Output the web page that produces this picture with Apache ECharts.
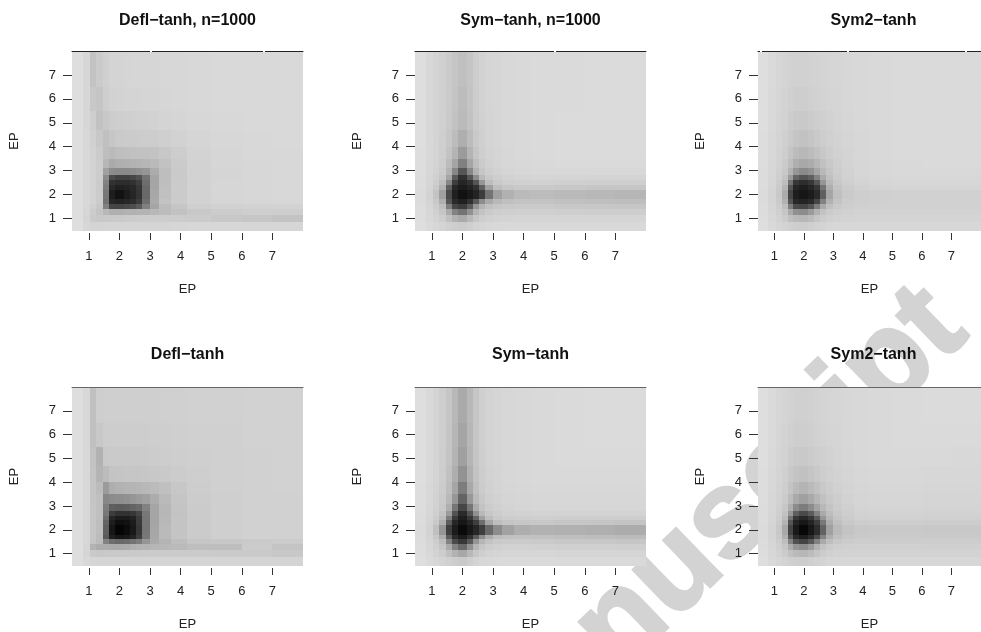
<!DOCTYPE html>
<html><head><meta charset="utf-8">
<style>html,body{margin:0;padding:0;background:#fff;overflow:hidden}#c{width:981px;height:632px}</style>
<script src="https://cdn.jsdelivr.net/npm/echarts@6/dist/echarts.min.js"></script>
</head><body><div id="c"></div>
<script>
const xEdges=[0.45,0.8,1.05,1.25,1.45,1.65,1.85,2.15,2.35,2.55,2.75,3,3.3,3.7,4.2,5,6,7,8];
const yEdges=[8,6.5,5.5,4.7,4,3.5,3.1,2.8,2.6,2.4,2.2,1.8,1.6,1.4,1.15,0.85,0.48];
const tickLabels=[1,2,3,4,5,6,7];
const titles=["Defl\u2212tanh, n=1000","Sym\u2212tanh, n=1000","Sym2\u2212tanh","Defl\u2212tanh","Sym\u2212tanh","Sym2\u2212tanh"];
const axisName="EP";
const watermark="Manuscript";
// grey level per cell, rows from top (y=8) to bottom (y=0.48)
const deflN=[
[222,215,195,203,208,212,212,213,214,214,214,214,215,215,216,217,217,217],
[222,215,200,197,206,210,211,212,212,212,213,213,214,215,216,217,217,217],
[222,215,206,194,200,205,206,207,208,209,209,210,212,213,215,216,217,217],
[222,216,208,200,192,198,202,203,203,204,205,205,207,210,213,215,216,217],
[222,216,210,203,190,186,190,192,193,194,194,195,200,205,211,214,216,216],
[222,216,211,205,182,170,174,176,178,180,182,186,194,203,210,214,215,216],
[222,216,211,205,160,140,138,138,140,144,150,172,190,202,210,213,215,216],
[222,216,211,205,140,75,65,65,70,80,115,165,190,202,210,213,215,216],
[222,216,211,204,130,50,45,45,50,62,110,165,190,203,210,214,215,216],
[222,216,211,204,125,40,32,35,40,55,105,165,192,203,210,214,215,216],
[222,216,211,204,120,30,18,28,38,52,105,168,192,203,210,214,215,216],
[222,216,211,204,115,40,35,38,45,60,110,170,195,204,210,213,214,215],
[222,215,208,200,128,70,68,72,78,90,128,165,188,198,207,209,210,211],
[222,214,204,196,185,176,176,178,178,180,180,184,188,194,200,204,206,206],
[222,213,202,200,201,202,202,203,204,204,205,205,205,204,203,200,198,195],
[222,215,212,212,213,213,213,213,213,213,213,213,213,214,215,215,214,214]];
const symN=[
[222,216,212,208,203,197,192,197,205,210,213,214,216,217,218,218,219,219],
[222,216,212,208,203,196,188,196,205,210,213,214,216,217,218,218,219,219],
[222,216,212,208,202,194,186,194,204,209,212,214,216,217,218,219,219,219],
[222,216,212,207,199,188,174,188,201,208,212,214,216,217,218,219,219,219],
[221,216,212,206,195,180,155,180,197,206,211,213,215,217,218,219,219,219],
[221,215,211,205,188,165,128,165,190,203,209,212,215,216,217,218,218,218],
[221,215,210,203,180,135,85,135,178,198,206,210,213,215,216,216,216,216],
[220,214,208,198,165,90,48,85,140,185,200,206,210,212,213,213,212,212],
[220,214,206,190,135,62,38,50,85,150,190,202,207,208,209,208,207,207],
[220,213,202,178,95,40,28,35,50,95,160,190,198,201,201,200,198,198],
[219,211,195,160,75,32,18,25,35,60,115,160,177,186,188,186,184,182],
[219,212,200,175,85,42,32,50,90,140,170,185,192,195,195,193,191,190],
[220,214,205,190,125,70,60,90,150,180,192,198,201,202,202,200,199,198],
[221,215,208,198,170,130,115,145,180,195,202,206,207,208,208,207,206,206],
[221,216,211,205,192,178,170,185,198,205,209,211,212,213,213,213,213,213],
[222,218,215,212,208,205,203,207,211,213,215,216,217,217,217,217,217,217]];
const sym2N=[
[222,218,214,212,210,209,209,210,211,212,213,214,215,216,217,218,218,218],
[222,217,214,211,208,206,206,208,209,211,212,213,215,216,217,218,218,218],
[222,217,213,210,205,202,201,204,206,208,210,212,214,216,217,218,218,218],
[221,216,212,208,202,197,194,197,201,205,208,211,213,215,217,218,218,218],
[221,216,211,206,197,188,184,188,194,200,205,209,212,215,217,218,218,218],
[221,215,210,203,190,175,168,172,182,193,201,207,211,214,216,217,218,218],
[220,215,208,200,178,150,138,145,165,185,197,205,210,214,216,217,217,217],
[220,214,207,195,155,100,85,95,130,170,192,203,209,213,215,216,216,216],
[220,214,205,190,115,55,45,55,85,150,185,200,207,211,214,215,215,215],
[220,213,203,182,85,38,30,38,55,115,175,196,204,209,212,213,213,213],
[219,212,201,172,70,30,22,28,42,95,165,192,202,206,208,209,209,209],
[219,212,202,178,85,40,35,42,70,130,178,196,204,207,208,209,209,209],
[220,213,205,190,125,75,70,85,125,170,192,202,206,208,209,209,209,209],
[220,214,208,198,170,145,140,155,178,195,203,207,209,210,210,210,210,210],
[221,215,210,204,192,185,183,188,197,204,208,210,211,212,212,212,212,212],
[222,217,214,211,208,206,205,207,210,212,214,215,215,215,215,215,215,215]];
const deflA=[
[222,216,192,206,207,207,207,207,207,207,207,207,208,208,209,209,210,210],
[222,216,192,200,205,205,205,205,205,205,205,206,206,207,208,208,210,210],
[222,216,194,178,201,202,202,202,202,202,203,204,205,206,207,208,209,210],
[222,216,196,180,188,196,197,198,198,198,199,200,201,204,206,208,209,210],
[222,216,197,188,155,174,178,180,181,182,184,187,192,199,205,208,209,210],
[222,216,197,192,135,140,142,145,150,155,160,172,186,197,204,207,209,209],
[222,216,198,192,125,95,92,95,100,105,130,165,183,196,203,207,209,209],
[222,216,198,192,120,60,50,50,55,70,120,165,183,195,203,207,209,209],
[222,216,198,192,110,38,28,28,35,60,118,165,184,196,203,207,209,209],
[222,216,198,190,100,30,15,18,28,58,118,165,184,196,203,207,209,209],
[222,216,198,190,95,22,5,12,25,55,118,166,186,196,203,207,209,209],
[222,216,198,188,90,32,22,25,35,62,120,168,186,197,203,207,209,209],
[222,215,197,187,130,110,105,108,115,125,150,170,180,190,198,200,202,204],
[222,214,178,172,172,170,170,172,176,178,180,182,184,186,190,190,204,196],
[222,213,202,200,201,201,201,201,202,202,203,203,203,203,203,202,202,200],
[222,216,214,213,213,213,213,213,213,213,213,213,213,213,213,213,212,212]];
const symA=[
[222,217,212,206,198,184,170,184,198,207,211,213,215,216,217,218,219,219],
[222,217,212,206,197,182,165,183,198,207,211,213,215,216,217,218,219,219],
[222,217,212,206,196,180,160,181,197,206,211,213,215,216,217,218,218,218],
[222,217,212,205,193,174,146,176,195,205,210,212,215,216,217,217,217,217],
[221,216,211,204,190,165,125,168,192,204,209,212,214,215,216,216,216,216],
[221,216,210,202,185,150,100,152,186,200,207,210,213,214,215,215,215,215],
[221,215,209,200,175,118,70,118,172,195,204,208,211,213,214,214,214,214],
[220,215,207,195,155,82,42,82,145,185,199,205,209,210,211,211,211,211],
[220,214,205,188,125,58,30,55,100,160,190,201,205,206,207,206,206,206],
[220,213,201,175,92,38,22,36,62,110,165,190,197,199,200,198,197,196],
[219,211,192,150,62,28,10,24,38,62,105,140,162,174,178,177,175,172],
[220,212,199,172,90,42,28,48,90,140,172,188,192,194,193,191,189,187],
[220,214,205,188,130,75,55,88,150,182,195,201,203,203,202,200,199,198],
[221,215,208,198,170,130,105,145,182,198,205,208,210,210,209,208,208,207],
[221,216,211,205,192,178,168,185,199,207,211,213,214,214,214,213,213,213],
[222,218,215,212,208,205,202,207,212,215,216,217,218,218,218,217,217,217]];
const sym2A=[
[222,218,214,212,210,208,208,209,211,212,213,214,215,216,217,218,219,219],
[222,218,214,211,208,206,206,207,209,211,212,213,215,216,217,218,218,218],
[222,217,213,210,205,202,201,204,206,208,210,212,214,216,217,217,217,216],
[221,216,212,208,201,196,193,197,201,205,208,211,213,215,216,216,215,215],
[221,216,211,206,196,186,180,186,193,200,205,209,212,214,215,215,214,214],
[221,215,210,203,188,170,160,170,182,193,201,206,210,213,214,214,213,213],
[220,215,208,199,175,140,125,140,163,184,196,204,208,212,213,213,212,212],
[220,214,207,194,150,95,75,92,130,170,190,201,206,210,211,211,210,210],
[220,214,205,188,115,55,40,55,90,150,182,197,204,208,209,209,208,208],
[220,213,203,180,85,36,24,36,60,120,172,192,201,205,206,206,205,205],
[219,212,200,168,68,25,8,24,45,98,160,186,196,200,201,201,200,200],
[219,212,202,176,88,42,30,44,75,132,175,192,199,202,203,203,202,202],
[220,213,205,190,130,80,68,88,130,170,190,200,204,205,205,205,205,205],
[220,214,208,198,172,148,140,155,178,195,203,207,208,209,209,209,208,208],
[221,215,210,204,193,186,183,188,197,204,208,210,211,211,211,211,211,211],
[222,217,214,211,208,206,205,207,210,212,214,215,215,215,215,215,215,215]];
const panels=[deflN,symN,sym2N,deflA,symA,sym2A];

const lefts=[72,415,758], tops=[51,387], W=231, H=180;
const font="'Liberation Sans',Arial,sans-serif", ink='#222', tickInk='#333';
const grid=[],xAxis=[],yAxis=[],series=[],title=[];
panels.forEach((rows,i)=>{
  const l=lefts[i%3], row=Math.floor(i/3), t=tops[row];
  grid.push({left:l,top:t,width:W,height:H,containLabel:false});
  title.push({text:titles[i],left:l+W/2,top:row?347:13,padding:0,textAlign:'center',
    textStyle:{fontFamily:font,fontSize:16,fontWeight:'bold',color:'#111',lineHeight:16}});
  xAxis.push({gridIndex:i,type:'value',min:0.45,max:8,offset:2,name:axisName,nameLocation:'middle',nameGap:50,
    nameTextStyle:{fontFamily:font,fontSize:13,color:ink},
    axisLine:{show:false},splitLine:{show:false},
    axisTick:{show:true,length:7,inside:false,customValues:tickLabels,lineStyle:{color:tickInk,width:1}},
    axisLabel:{margin:17,fontFamily:font,fontSize:13,color:ink,customValues:tickLabels}});
  xAxis.push({gridIndex:i,type:'value',min:0.45,max:8,position:'top',z:10,
    axisLine:{show:true,onZero:false,lineStyle:{color:i<3?'#222':'#666',width:1}},
    axisTick:{show:false},axisLabel:{show:false},splitLine:{show:false}});
  yAxis.push({gridIndex:i,type:'value',min:0.48,max:8,name:axisName,nameLocation:'middle',nameGap:51,nameRotate:90,
    nameTextStyle:{fontFamily:font,fontSize:13,color:ink},
    axisLine:{show:false},splitLine:{show:false},
    axisTick:{show:true,length:9,customValues:tickLabels,lineStyle:{color:tickInk,width:1}},
    axisLabel:{margin:16,fontFamily:font,fontSize:13,color:ink,customValues:tickLabels}});
  const data=[];
  rows.forEach((r,ri)=>r.forEach((v,ci)=>data.push([xEdges[ci],xEdges[ci+1],yEdges[ri+1],yEdges[ri],v])));
  series.push({type:'custom',xAxisIndex:i*2,yAxisIndex:i,silent:true,animation:false,clip:true,
    encode:{x:[0,1],y:[2,3]},data,
    renderItem:(p,api)=>{
      const a=api.coord([api.value(0),api.value(3)]),b=api.coord([api.value(1),api.value(2)]);
      const v=api.value(4),x=Math.round(a[0]),y=Math.round(a[1]);
      return {type:'rect',shape:{x,y,width:Math.round(b[0])-x,height:Math.round(b[1])-y},
        style:{fill:`rgb(${v},${v},${v})`,stroke:null}};
    }});
});
const chart=echarts.init(document.getElementById('c'),null,{renderer:'canvas'});
const lineGaps=[150,263,554,760,847,965];
chart.setOption({animation:false,backgroundColor:'#fff',grid,xAxis,yAxis,series,title,
  graphic:[{type:'text',z:-1,x:990,y:355,rotation:44*Math.PI/180,silent:true,
    style:{text:watermark,fontFamily:font,fontWeight:'bold',fontSize:124,fill:'#d3d3d3',stroke:'#d3d3d3',lineWidth:3,textAlign:'right',textVerticalAlign:'bottom'}}]
    .concat(lineGaps.map(x=>({type:'rect',z:100,silent:true,shape:{x,y:50,width:2,height:2},style:{fill:'#fff'}})))});
</script></body></html>
